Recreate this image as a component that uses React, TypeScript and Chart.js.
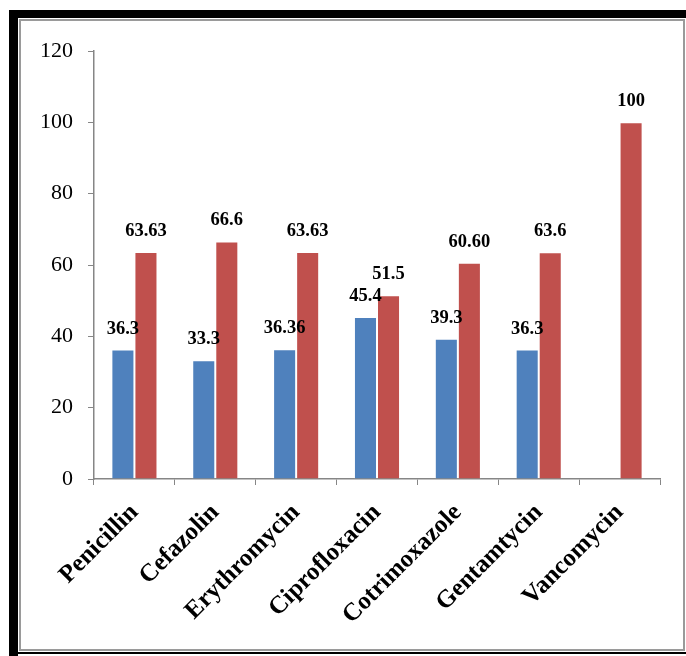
import React, { useEffect, useRef } from "react";
import { Chart, registerables } from "chart.js";

Chart.register(...registerables);

const categories = ["Penicillin", "Cefazolin", "Erythromycin", "Ciprofloxacin", "Cotrimoxazole", "Gentamtycin", "Vancomycin"];
const blueValues: (number | null)[] = [36.3, 33.3, 36.36, 45.4, 39.3, 36.3, null];
const redValues: number[] = [63.63, 66.6, 63.63, 51.5, 60.6, 63.6, 100];
const blueLabels = ["36.3", "33.3", "36.36", "45.4", "39.3", "36.3", ""];
const redLabels = ["63.63", "66.6", "63.63", "51.5", "60.60", "63.6", "100"];
const yTicks = [0, 20, 40, 60, 80, 100, 120];

const SERIF = "'Liberation Serif', 'Times New Roman', serif";

const valueLabelPlugin = {
  id: "valueLabels",
  afterDatasetsDraw(chart: any) {
    const ctx = chart.ctx;
    const all = [blueLabels, redLabels];
    ctx.save();
    ctx.font = `bold 18.5px ${SERIF}`;
    ctx.fillStyle = "#000";
    ctx.textAlign = "center";
    ctx.textBaseline = "alphabetic";
    chart.data.datasets.forEach((_: any, i: number) => {
      const meta = chart.getDatasetMeta(i);
      meta.data.forEach((bar: any, j: number) => {
        const txt = all[i][j];
        if (!txt) return;
        ctx.fillText(txt, bar.x, bar.y - 16);
      });
    });
    ctx.restore();
  },
};

export default function App() {
  const ref = useRef<HTMLCanvasElement | null>(null);
  useEffect(() => {
    if (!ref.current) return;
    const chart = new Chart(ref.current, {
      type: "bar",
      data: {
        labels: categories,
        datasets: [
          {
            data: blueValues,
            backgroundColor: "#4F81BD",
            borderColor: "rgba(255,255,255,0.25)",
            borderWidth: 1,
            categoryPercentage: 0.57,
            barPercentage: 1.0,
          },
          {
            data: redValues,
            backgroundColor: "#C0504D",
            borderColor: "rgba(255,255,255,0.25)",
            borderWidth: 1,
            categoryPercentage: 0.57,
            barPercentage: 1.0,
          },
        ],
      },
      options: {
        responsive: false,
        animation: false,
        devicePixelRatio: 1,
        layout: { padding: { left: 0, right: 26, top: 51, bottom: 0 } },
        plugins: { legend: { display: false }, tooltip: { enabled: false } },
        scales: {
          x: {
            grid: { drawOnChartArea: false, color: "#868686", tickLength: 6, offset: true },
            border: { color: "#868686", width: 1.5 },
            ticks: {
              color: "#000",
              font: { family: SERIF, size: 25, weight: "bold" },
              minRotation: 45,
              maxRotation: 45,
              autoSkip: false,
              padding: 13,
            },
            afterFit: (s: any) => {
              s.height = 177;
            },
          },
          y: {
            min: 0,
            max: 120,
            grid: { drawOnChartArea: false, color: "#868686", tickLength: 6 },
            border: { color: "#868686", width: 1.5 },
            afterBuildTicks: (s: any) => {
              s.ticks = yTicks.map((v) => ({ value: v }));
            },
            ticks: {
              color: "#000",
              font: { family: SERIF, size: 22 },
              padding: 15,
            },
            afterFit: (s: any) => {
              s.width = 94;
            },
          },
        },
      },
      plugins: [valueLabelPlugin],
    });
    return () => chart.destroy();
  }, []);

  return (
    <div style={{ position: "absolute", left: 0, top: 0, width: 686, height: 656, background: "#fff", overflow: "hidden" }}>
      <div style={{ position: "absolute", left: 9, top: 10, width: 677, height: 8, background: "#000" }} />
      <div style={{ position: "absolute", left: 9, top: 10, width: 9, height: 646, background: "#000" }} />
      <div style={{ position: "absolute", left: 9, top: 652, width: 677, height: 2, background: "#000" }} />
      <div
        style={{
          position: "absolute",
          left: 19,
          top: 19,
          width: 666,
          height: 632,
          border: "2px solid #9a9a9a",
          boxSizing: "border-box",
        }}
      />
      <canvas ref={ref} width={686} height={656} style={{ position: "absolute", left: 0, top: 0, width: 686, height: 656 }} />
    </div>
  );
}
